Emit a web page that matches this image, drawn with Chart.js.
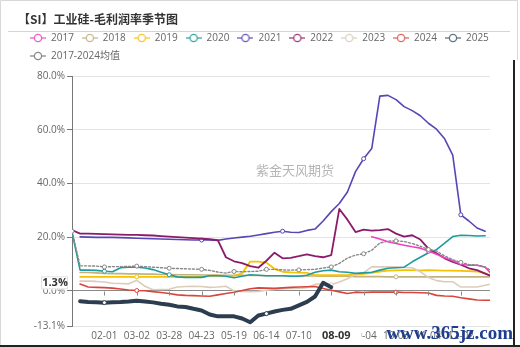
<!DOCTYPE html>
<html>
<head>
<meta charset="utf-8">
<script src="https://cdn.jsdelivr.net/npm/chart.js@4.4.0/dist/chart.umd.min.js"></script>
<style>
  html, body { margin: 0; padding: 0; background: #fff; }
</style>
</head>
<body>
<canvas id="chart" width="520" height="347"></canvas>
<script>
const title = "【SI】工业硅-毛利润率季节图";

// x categories (one point every ~6.5 days), a label every 4th point
const dates = ["01-02","01-09","01-15","01-22","02-01","02-08","02-15","02-22","03-02","03-08","03-15","03-21","03-28","04-03","04-10","04-16","04-23","04-29","05-06","05-12","05-19","05-25","06-01","06-07","06-14","06-20","06-27","07-03","07-10","07-17","07-25","08-02","08-09","08-15","08-22","08-28","09-04","09-11","09-18","09-25","10-03","10-11","10-18","10-26","11-04","11-11","11-18","11-25","12-02","12-09","12-16","12-23","12-30"];
const tickIdx = [4, 8, 12, 16, 20, 24, 28, 32, 36, 40, 44, 48];
const yTicks = [-13.1, 0, 20, 40, 60, 80];

// gross margin, %
const y2017 = [null,null,null,null,null,null,null,null,null,null,null,null,null,null,null,null,null,null,null,null,null,null,null,null,null,null,null,null,null,null,null,null,null,null,null,null,null,20.1,19.3,18.3,17.6,17.0,16.4,15.9,14.8,13.6,12.3,11.2,9.9,9.5,9.5,8.8,5.5];
const y2018 = [null,6.8,6.8,6.7,6.5,6.4,6.4,6.3,6.3,6.2,6.2,6.1,6.1,6.0,6.0,6.0,5.9,5.9,5.9,5.8,5.8,5.8,5.7,5.7,5.6,5.6,5.6,5.5,5.5,5.5,5.5,5.4,5.4,5.4,5.4,5.3,5.3,5.3,5.3,5.2,5.2,5.2,5.2,5.2,5.2,5.2,5.2,5.2,5.2,5.2,5.2,5.2,5.2];
const y2019 = [null,5.2,5.2,5.2,5.2,5.2,5.2,5.2,5.2,5.2,5.2,5.2,5.2,5.2,5.2,5.2,5.2,5.6,5.6,5.6,5.6,6.5,10.9,10.9,10.5,8.2,7.1,6.9,6.8,6.7,5.8,5.8,5.8,5.8,5.8,6.0,6.3,6.7,7.2,7.5,7.6,7.7,7.7,7.6,7.7,7.6,7.5,7.5,7.4,7.3,7.2,6.6,5.0];
const y2020 = [21.8,7.7,7.7,7.6,7.3,7.1,8.6,8.8,8.8,8.5,7.9,6.9,6.0,5.2,5.0,5.0,5.0,5.6,5.6,5.4,4.9,5.4,6.0,5.8,5.6,5.6,5.6,5.4,5.4,5.8,6.9,7.5,7.7,7.1,6.9,6.5,6.7,6.9,7.7,8.4,8.6,8.8,10.8,12.5,14.2,15.3,17.8,20.2,20.7,20.6,20.4,20.5,null];
const y2021 = [null,20.1,20.0,19.9,19.9,19.9,19.8,19.7,19.6,19.5,19.4,19.3,19.2,19.1,19.0,18.9,18.9,18.9,18.8,19.3,19.7,20.0,20.3,20.8,21.3,21.8,22.2,21.8,21.7,22.5,23.0,26.0,29.5,32.5,36.8,44.4,49.2,53.0,72.5,72.8,71.2,68.6,67.1,65.2,62.4,60.2,56.6,50.5,28.3,26.0,23.4,22.2,null];
const y2022 = [22.6,21.3,21.3,21.2,21.1,21.0,20.9,20.8,20.8,20.7,20.6,20.4,20.2,20.0,19.8,19.6,19.4,19.2,18.9,12.5,11.0,10.3,9.2,8.6,11.2,14.2,12.1,12.3,12.9,13.6,12.9,12.5,13.3,30.5,26.5,21.9,22.8,22.4,22.6,23.0,21.3,20.2,20.7,19.1,15.7,14.0,12.1,10.8,9.7,8.4,7.7,6.4,5.2];
const y2023 = [null,3.6,3.6,3.5,3.3,2.8,2.7,2.6,3.9,1.7,0.4,0.5,0.6,1.4,1.6,1.7,1.6,1.3,1.4,1.7,0.0,-0.2,-0.3,-0.2,0.2,0.5,0.8,1.0,0.9,1.2,2.4,2.6,2.3,3.3,4.5,6.2,6.8,8.9,8.9,8.9,8.9,8.7,8.6,7.1,5.0,3.8,3.4,3.4,1.4,1.4,1.4,2.1,2.7];
const y2024 = [null,2.5,1.4,1.3,1.2,1.0,0.7,0.3,0.1,0.0,-0.3,-0.6,-1.0,-1.5,-1.7,-1.8,-1.9,-2.0,-1.5,-1.0,-0.5,0.1,0.8,1.1,1.0,0.9,1.1,1.3,1.4,1.5,1.6,0.9,0.2,-0.4,-1.0,-0.5,-0.6,-0.5,-0.5,-0.5,-0.5,-0.6,-0.6,-0.7,-0.8,-1.7,-1.9,-2.0,-2.6,-3.0,-3.4,-3.5,-3.5];
const y2025 = [null,-3.9,-4.2,-4.3,-4.4,-4.3,-4.2,-4.0,-3.7,-4.0,-4.3,-4.8,-5.2,-5.8,-6.0,-6.7,-7.3,-8.8,-9.5,-9.5,-9.5,-10.3,-11.7,-9.2,-8.5,-7.7,-7.1,-6.7,-5.4,-4.1,-2.1,3.0,1.3,null,null,null,null,null,null,null,null,null,null,null,null,null,null,null,null,null,null,null,null];
const yAvg = [22.2,9.3,9.3,9.2,8.9,9.0,9.0,9.1,9.2,9.0,8.8,8.6,8.4,8.3,8.2,8.1,8.0,7.6,7.0,6.6,7.2,7.1,7.2,7.3,8.0,8.0,7.8,7.7,7.8,7.9,8.0,8.5,8.9,10.2,12.2,13.3,13.8,15.1,17.8,18.5,18.6,18.4,17.6,16.6,15.4,14.8,13.0,11.6,10.6,9.8,9.6,8.9,7.0];

const names = ["2017", "2018", "2019", "2020", "2021", "2022", "2023", "2024", "2025", "2017-2024均值"];
const series = [y2017, y2018, y2019, y2020, y2021, y2022, y2023, y2024, y2025, yAvg];
const colors = ["#f23fbf", "#c4b27e", "#f7c200", "#1f9a9e", "#5747b5", "#8c1b6b", "#dccdbb", "#d8453d", "#2b3d4f", "#888888"];
const iconColors = ["#f25cc8", "#c9b98a", "#f7c62a", "#3aa5a8", "#6b5dbd", "#a0407f", "#ddd2c4", "#de6a62", "#627384", "#8a8a8a"];
const widths = [1.6, 1.6, 1.8, 1.6, 1.6, 1.8, 1.6, 1.6, 4, 1.4];
const marks = [[44], [40], [8], [4, 12], [16, 26, 36, 48], [], [32], [8, 40], [4, 24], [0, 4, 8, 12, 16, 20, 24, 28, 32, 36, 40, 44, 48]];
const drawOrder = [3, 8, 7, 5, 4, 3, 6, 5, 0, 1];

const font = "'Open Sans', 'Noto Sans CJK SC', sans-serif";

function legendIcon(color) {
  const c = document.createElement("canvas");
  c.width = 16;
  c.height = 10;
  const g = c.getContext("2d");
  g.strokeStyle = color;
  g.lineWidth = 1.3;
  g.beginPath();
  g.moveTo(0, 5);
  g.lineTo(16, 5);
  g.stroke();
  g.beginPath();
  g.arc(8, 5, 3.6, 0, Math.PI * 2);
  g.fillStyle = "#fff";
  g.fill();
  g.stroke();
  return c;
}
const icons = iconColors.map(legendIcon);

const datasets = series.map((vals, k) => ({
  label: names[k],
  data: vals.map((v, i) => ({ x: i, y: v })),
  xAxisID: "x",
  yAxisID: "y",
  borderColor: colors[k],
  backgroundColor: colors[k],
  borderWidth: widths[k],
  borderDash: k === 9 ? [2, 2] : [],
  borderJoinStyle: "round",
  borderCapStyle: "round",
  tension: 0,
  order: drawOrder[k],
  pointRadius: (ctx) => (marks[k].includes(ctx.dataIndex) ? 2 : 0),
  pointBackgroundColor: "#fff",
  pointBorderColor: colors[k],
  pointBorderWidth: 1,
  pointHoverRadius: 0,
}));

// find the latest 2025 point for the pointer labels
let lastIdx = 0;
y2025.forEach((v, i) => { if (v != null) lastIdx = i; });
const lastVal = y2025[lastIdx];

const extras = {
  id: "extras",
  beforeDraw(chart) {
    const c = chart.ctx;
    c.save();
    c.fillStyle = "#fff";
    c.fillRect(0, 0, chart.width, chart.height);
    c.font = "bold 12px 'Noto Sans CJK SC', sans-serif";
    c.fillStyle = "#333";
    c.textBaseline = "middle";
    c.fillText(title, 18, 19);
    c.strokeStyle = "#d4d4d4";
    c.lineWidth = 1;
    c.beginPath();
    c.moveTo(8, 31.5);
    c.lineTo(510, 31.5);
    c.stroke();
    c.font = "13px 'Noto Sans CJK SC', sans-serif";
    c.fillStyle = "#b5b5b5";
    c.textAlign = "center";
    c.fillText("紫金天风期货", 295, 170);
    c.restore();
  },
  afterDraw(chart) {
    const c = chart.ctx;
    const xs = chart.scales.x;
    const ys = chart.scales.y;
    const y0 = Math.round(ys.getPixelForValue(0)) + 0.5;
    c.save();
    // small ticks on the zero line
    c.strokeStyle = "#888";
    c.lineWidth = 1;
    tickIdx.forEach((i) => {
      const px = Math.round(xs.getPixelForValue(i)) + 0.5;
      c.beginPath();
      c.moveTo(px, y0);
      c.lineTo(px, y0 + 4);
      c.stroke();
    });
    // y pointer label
    const py = ys.getPixelForValue(lastVal) - 4;
    c.fillStyle = "#fff";
    c.fillRect(41, py - 7, 27, 13);
    c.strokeStyle = "#e2e2e2";
    c.strokeRect(41.5, py - 6.5, 26, 12);
    c.font = "bold 11px 'Open Sans', sans-serif";
    c.fillStyle = "#333";
    c.textAlign = "center";
    c.textBaseline = "middle";
    c.fillText(lastVal.toFixed(1) + "%", 55, py);
    // x pointer label
    const px = xs.getPixelForValue(lastIdx);
    c.fillStyle = "#fff";
    c.fillRect(px - 20, 328, 50, 16);
    c.fillStyle = "#333";
    c.font = "bold 11px 'Open Sans', sans-serif";
    c.fillText(dates[lastIdx], px + 5, 336);
    // site mark
    c.font = "bold 19px 'Liberation Serif', serif";
    c.fillStyle = "#1d3d8d";
    c.textAlign = "right";
    c.textBaseline = "alphabetic";
    c.fillText("www.365jz.com", 513, 339);
    // frame
    c.strokeStyle = "#d8d8d8";
    c.lineWidth = 1;
    c.beginPath();
    c.moveTo(0.5, 347);
    c.lineTo(0.5, 0.5);
    c.lineTo(517.5, 0.5);
    c.lineTo(517.5, 60);
    c.stroke();
    c.strokeStyle = "#222";
    c.lineWidth = 2;
    c.beginPath();
    c.moveTo(514, 60);
    c.lineTo(514, 346);
    c.moveTo(0, 346);
    c.lineTo(520, 346);
    c.stroke();
    c.restore();
  },
};

new Chart(document.getElementById("chart").getContext("2d"), {
  type: "line",
  data: { datasets },
  plugins: [extras],
  options: {
    responsive: false,
    animation: false,
    events: [],
    layout: { padding: { top: 25, left: 22, right: 8, bottom: 5 } },
    scales: {
      x: {
        type: "linear",
        position: "bottom",
        min: 0,
        max: 51.6,
        afterBuildTicks: (s) => { s.ticks = tickIdx.map((v) => ({ value: v })); },
        afterFit: (s) => { s.height = 16; },
        grid: { display: false, drawTicks: false },
        border: { display: false },
        ticks: {
          autoSkip: false,
          maxRotation: 0,
          padding: 4,
          color: "#666",
          font: { size: 10, family: font },
          callback: (v) => dates[v],
        },
      },
      xTop: {
        type: "linear",
        axis: "x",
        position: "top",
        grid: { display: false, drawTicks: false },
        border: { display: false },
        ticks: { display: false },
        afterFit: (s) => { s.height = 5; },
      },
      y: {
        type: "linear",
        position: "left",
        min: -13.1,
        max: 80,
        afterBuildTicks: (s) => { s.ticks = yTicks.map((v) => ({ value: v })); },
        afterFit: (s) => { s.width = 50; },
        grid: {
          color: (ctx) => (ctx.tick && ctx.tick.value === 0 ? "#8a8a8a" : "#e4e4e4"),
          lineWidth: 1,
          tickLength: 5,
          tickColor: "#777",
        },
        border: { display: true, color: "#777", width: 1 },
        ticks: {
          padding: 2,
          color: "#666",
          font: { size: 10, family: font },
          callback: (v) => v.toFixed(1) + "%",
        },
      },
      yRight: {
        type: "linear",
        axis: "y",
        position: "right",
        grid: { display: false, drawTicks: false },
        border: { display: false },
        ticks: { display: false },
        afterFit: (s) => { s.width = 22; },
      },
    },
    plugins: {
      tooltip: { enabled: false },
      legend: {
        position: "top",
        align: "start",
        labels: {
          usePointStyle: true,
          pointStyleWidth: 16,
          boxHeight: 10,
          padding: 8,
          color: "#666",
          font: { size: 10, family: font },
          sort: (a, b) => a.datasetIndex - b.datasetIndex,
          generateLabels: (chart) => {
            const items = Chart.defaults.plugins.legend.labels.generateLabels(chart);
            items.forEach((it) => { it.pointStyle = icons[it.datasetIndex]; it.lineDash = []; });
            return items;
          },
        },
      },
    },
  },
});
</script>
</body>
</html>
